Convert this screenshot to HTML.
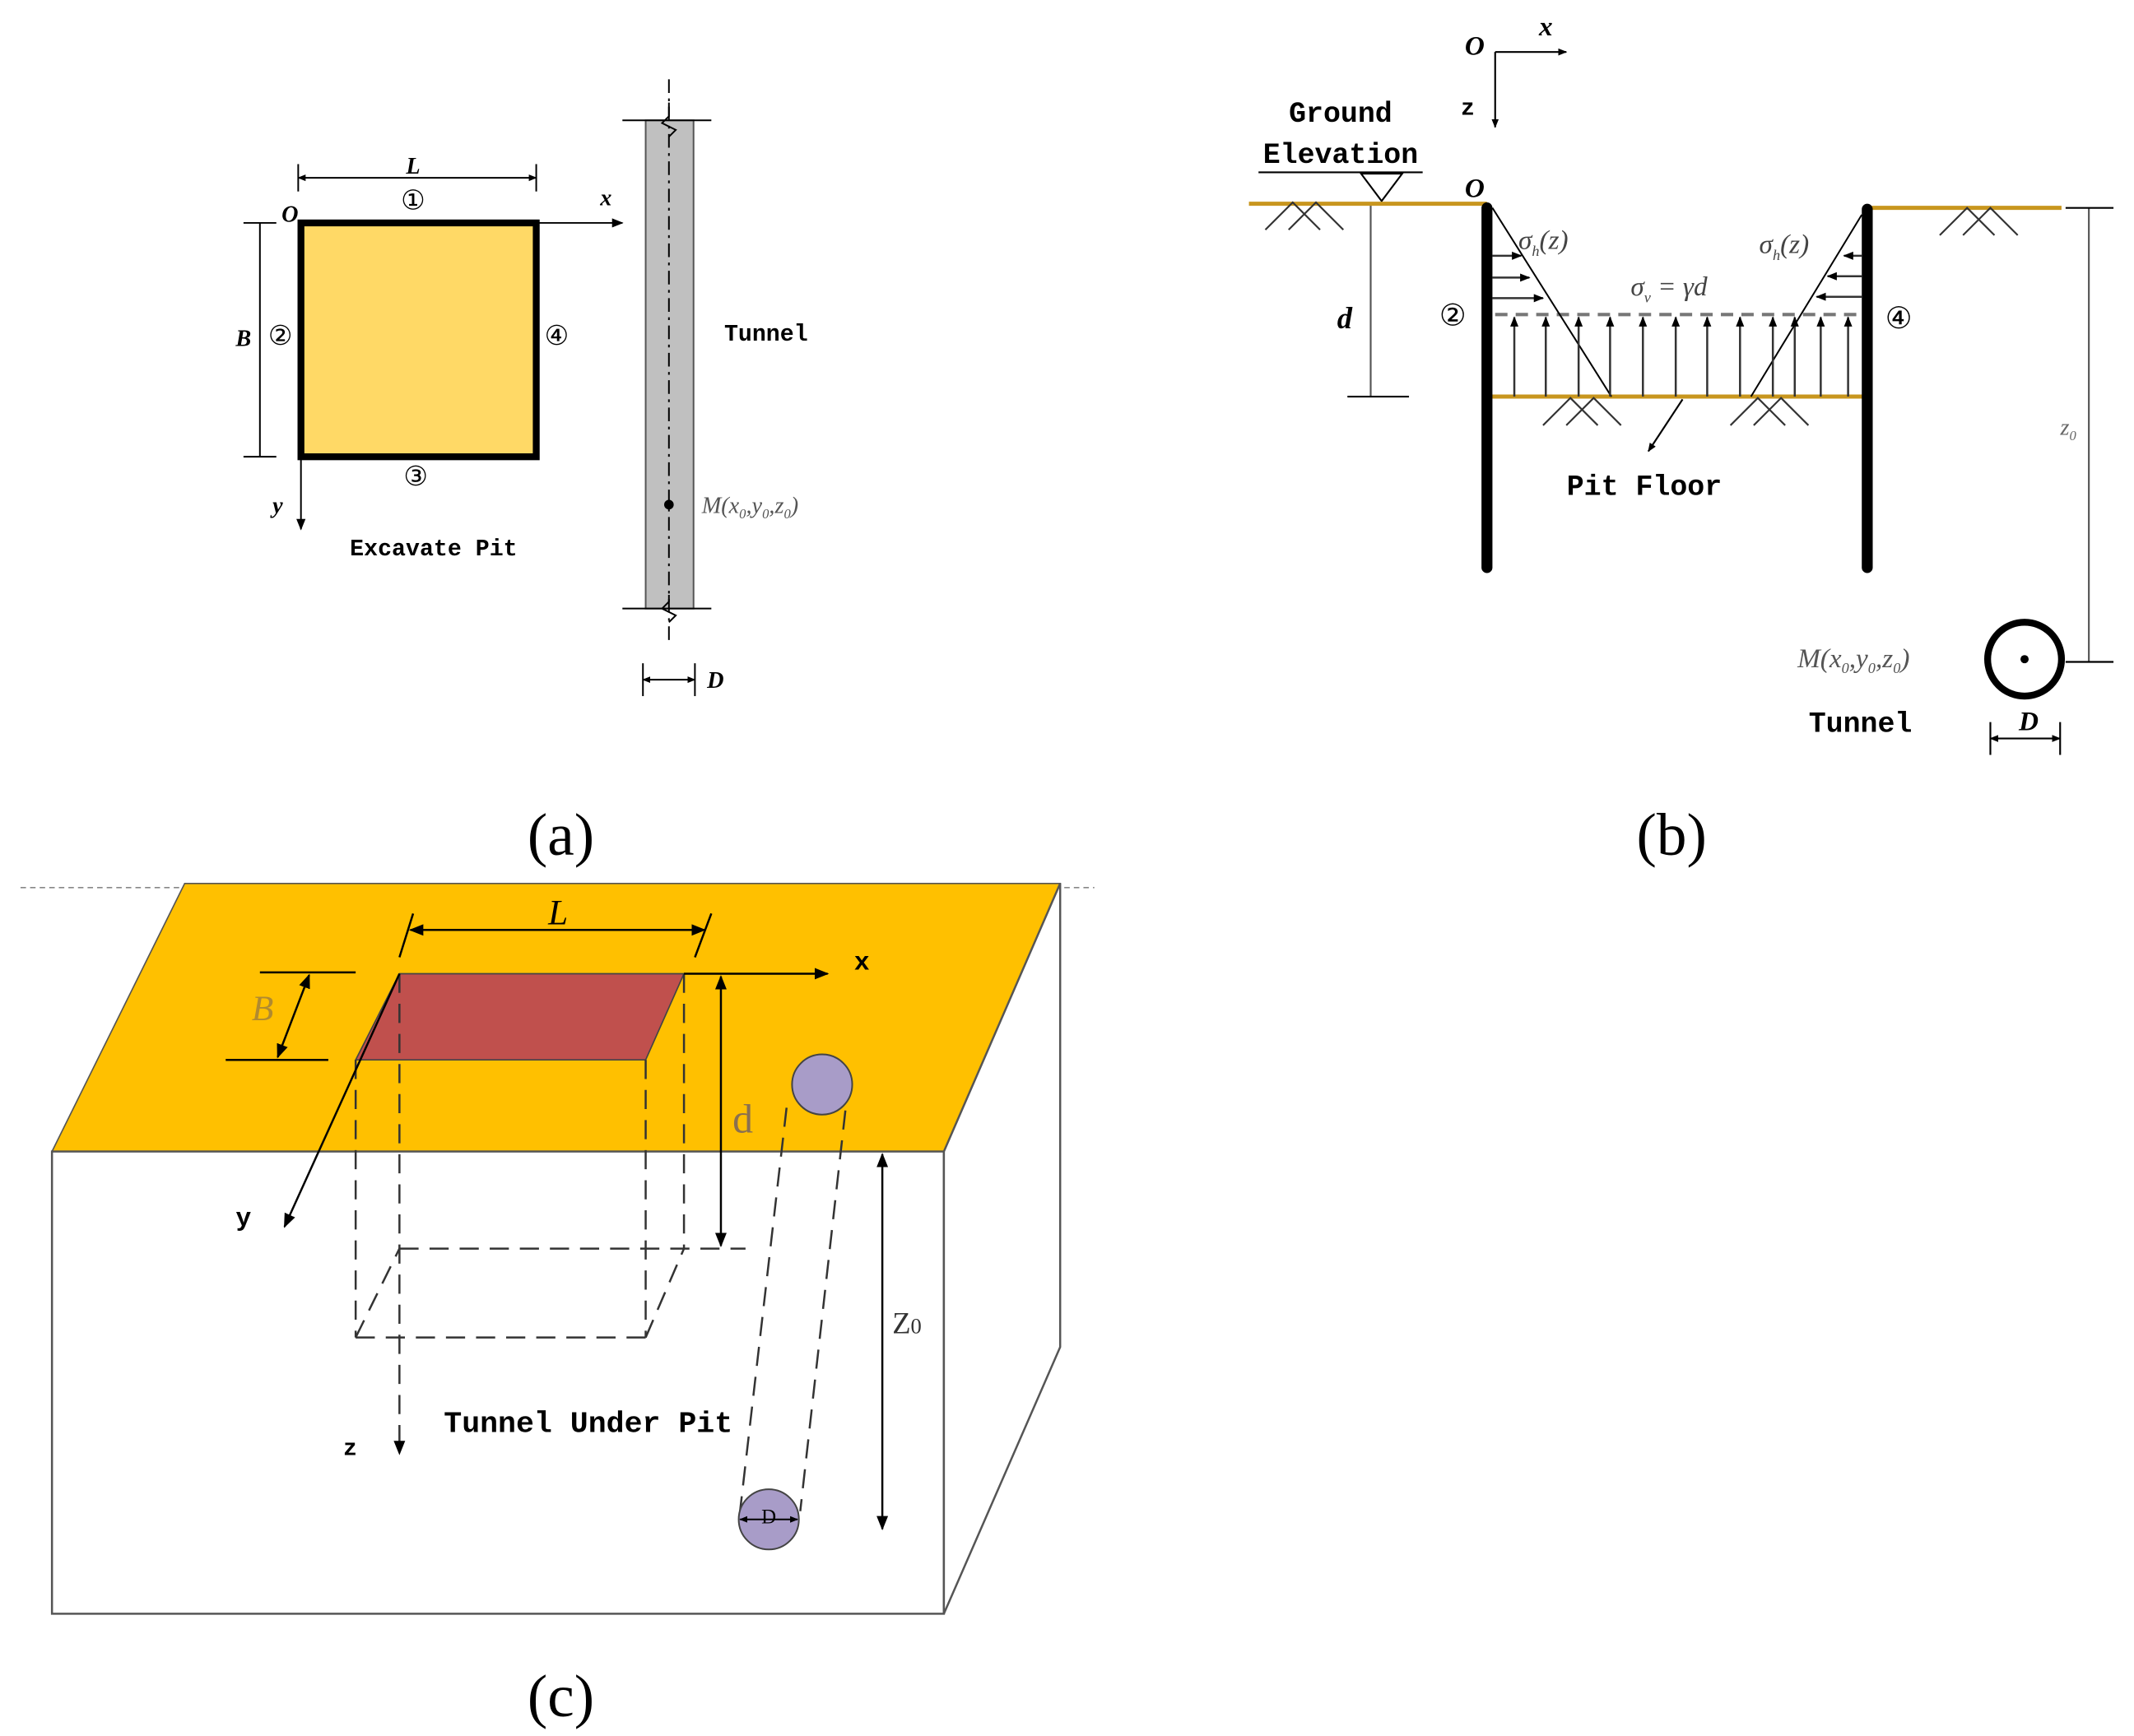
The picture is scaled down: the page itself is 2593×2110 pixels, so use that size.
<!DOCTYPE html>
<html><head><meta charset="utf-8"><style>
html,body{margin:0;padding:0;background:#fff}
svg{display:block}
.m{font-family:"Liberation Mono",monospace;font-weight:bold}
.s{font-family:"Liberation Serif",serif}
</style></head><body>
<svg width="2593" height="2110" viewBox="0 0 1560 1269.4" preserveAspectRatio="none" xmlns="http://www.w3.org/2000/svg">
<defs>
<marker id="a" viewBox="0 0 10 10" refX="9" refY="5" markerWidth="7" markerHeight="7" orient="auto-start-reverse"><path d="M0,1 L10,5 L0,9 z" fill="#000"/></marker>
<marker id="as" viewBox="0 0 10 10" refX="9" refY="5" markerWidth="5" markerHeight="5" orient="auto-start-reverse"><path d="M0,1 L10,5 L0,9 z" fill="#000"/></marker>
</defs>
<!-- Panel (a) -->
<g stroke="#000" stroke-width="1.2" fill="none">
<line x1="218" y1="130" x2="392" y2="130" marker-start="url(#as)" marker-end="url(#as)"/>
<line x1="218" y1="120" x2="218" y2="140"/><line x1="392" y1="120" x2="392" y2="140"/>
<line x1="190" y1="163" x2="190" y2="334"/>
<line x1="178" y1="163" x2="202" y2="163"/><line x1="178" y1="334" x2="202" y2="334"/>
<line x1="392" y1="163" x2="455" y2="163" marker-end="url(#a)"/>
<line x1="220" y1="334" x2="220" y2="387" marker-end="url(#a)"/>
</g>
<rect x="220" y="163" width="172" height="171" fill="#FFD966" stroke="#000" stroke-width="5"/>
<text x="302" y="127" class="s" font-style="italic" font-weight="bold" font-size="17" text-anchor="middle">L</text>
<text x="302" y="153" class="s" font-size="20" text-anchor="middle">①</text>
<text x="212" y="162" class="s" font-style="italic" font-weight="bold" font-size="17" text-anchor="middle">O</text>
<text x="443" y="150" class="s" font-style="italic" font-weight="bold" font-size="17" text-anchor="middle">x</text>
<text x="178" y="253" class="s" font-style="italic" font-weight="bold" font-size="17" text-anchor="middle">B</text>
<text x="205" y="252" class="s" font-size="20" text-anchor="middle">②</text>
<text x="407" y="252" class="s" font-size="20" text-anchor="middle">④</text>
<text x="304" y="355" class="s" font-size="20" text-anchor="middle">③</text>
<text x="203" y="375" class="s" font-style="italic" font-weight="bold" font-size="17" text-anchor="middle">y</text>
<text x="317" y="406" class="m" font-size="17" text-anchor="middle">Excavate Pit</text>
<rect x="472" y="88" width="35" height="357" fill="#c0c0c0" stroke="#555" stroke-width="1.2"/>
<g stroke="#000" stroke-width="1.2" fill="none">
<line x1="455" y1="88" x2="520" y2="88"/><line x1="455" y1="445" x2="520" y2="445"/>
<path d="M489,75 L489,85 L484,90 L494,95 L489,100"/>
<path d="M489,435 L489,440 L484,445 L494,450 L489,455"/>
<line x1="489" y1="58" x2="489" y2="470" stroke-dasharray="10,4,2,4"/>
<line x1="470" y1="497" x2="508" y2="497" marker-start="url(#as)" marker-end="url(#as)"/>
<line x1="470" y1="485" x2="470" y2="509"/><line x1="508" y1="485" x2="508" y2="509"/>
</g>
<circle cx="489" cy="369" r="3.5" fill="#000"/>
<text x="560" y="249" class="m" font-size="17" text-anchor="middle">Tunnel</text>
<text x="513" y="375" class="s" font-style="italic" font-size="17" fill="#555">M(x<tspan font-size="10" dy="4">0</tspan><tspan dy="-4">,y</tspan><tspan font-size="10" dy="4">0</tspan><tspan dy="-4">,z</tspan><tspan font-size="10" dy="4">0</tspan><tspan dy="-4">)</tspan></text>
<text x="523" y="503" class="s" font-style="italic" font-weight="bold" font-size="17" text-anchor="middle">D</text>
<text x="410" y="625" class="s" font-size="44" text-anchor="middle">(a)</text>

<!-- Panel (b) -->
<g stroke="#000" stroke-width="1.3" fill="none">
<line x1="1093" y1="38" x2="1145" y2="38" marker-end="url(#as)"/>
<line x1="1093" y1="38" x2="1093" y2="93" marker-end="url(#as)"/>
<line x1="920" y1="126" x2="1040" y2="126"/>
<path d="M995,127 L1025,127 L1010,147 Z"/>
<line x1="1002" y1="149" x2="1002" y2="290" stroke="#555"/>
<line x1="985" y1="290" x2="1030" y2="290"/>
<line x1="1527" y1="152" x2="1527" y2="484" stroke="#555"/>
<line x1="1510" y1="152" x2="1545" y2="152"/><line x1="1510" y1="484" x2="1545" y2="484"/>
<line x1="1455" y1="540" x2="1506" y2="540" marker-start="url(#as)" marker-end="url(#as)"/>
<line x1="1455" y1="528" x2="1455" y2="552"/><line x1="1506" y1="528" x2="1506" y2="552"/>
</g>
<line x1="913" y1="149" x2="1087" y2="149" stroke="#C8961E" stroke-width="3"/>
<line x1="1365" y1="152" x2="1507" y2="152" stroke="#C8961E" stroke-width="3"/>
<line x1="1090" y1="290" x2="1362" y2="290" stroke="#C8961E" stroke-width="3"/>
<g stroke="#333" stroke-width="1.3" fill="none">
<path d="M925,168 L945,148 L965,168 M942,168 L962,148 L982,168"/>
<path d="M1128,311 L1148,291 L1168,311 M1145,311 L1165,291 L1185,311"/>
<path d="M1265,311 L1285,291 L1305,311 M1282,311 L1302,291 L1322,311"/>
<path d="M1418,172 L1438,152 L1458,172 M1435,172 L1455,152 L1475,172"/>
</g>
<line x1="1087" y1="152" x2="1087" y2="415" stroke="#000" stroke-width="8" stroke-linecap="round"/>
<line x1="1365" y1="153" x2="1365" y2="415" stroke="#000" stroke-width="8" stroke-linecap="round"/>
<line x1="1093" y1="230" x2="1362" y2="230" stroke="#777" stroke-width="2.5" stroke-dasharray="9,6"/>
<g stroke="#000" stroke-width="1.2">
<line x1="1091" y1="152" x2="1178" y2="290"/>
<line x1="1361" y1="157" x2="1280" y2="290"/>
</g>
<g stroke="#333" stroke-width="1.5" marker-end="url(#as)">
<line x1="1107" y1="290" x2="1107" y2="232"/><line x1="1130" y1="290" x2="1130" y2="232"/>
<line x1="1154" y1="290" x2="1154" y2="232"/><line x1="1177" y1="290" x2="1177" y2="232"/>
<line x1="1201" y1="290" x2="1201" y2="232"/><line x1="1225" y1="290" x2="1225" y2="232"/>
<line x1="1248" y1="290" x2="1248" y2="232"/><line x1="1272" y1="290" x2="1272" y2="232"/>
<line x1="1296" y1="290" x2="1296" y2="232"/><line x1="1312" y1="290" x2="1312" y2="232"/>
<line x1="1331" y1="290" x2="1331" y2="232"/><line x1="1351" y1="290" x2="1351" y2="232"/>
<line x1="1091" y1="187" x2="1112" y2="187"/><line x1="1091" y1="203" x2="1118" y2="203"/><line x1="1091" y1="218" x2="1128" y2="218"/>
<line x1="1361" y1="187" x2="1348" y2="187"/><line x1="1361" y1="202" x2="1336" y2="202"/><line x1="1361" y1="217" x2="1328" y2="217"/>
</g>
<line x1="1230" y1="292" x2="1205" y2="330" stroke="#000" stroke-width="1.3" marker-end="url(#as)"/>
<text x="1078" y="40" class="s" font-style="italic" font-weight="bold" font-size="20" text-anchor="middle">O</text>
<text x="1130" y="26" class="s" font-style="italic" font-weight="bold" font-size="20" text-anchor="middle">x</text>
<text x="1073" y="84" class="m" font-size="17" text-anchor="middle">z</text>
<text x="980" y="89" class="m" font-size="21" text-anchor="middle">Ground</text>
<text x="980" y="119" class="m" font-size="21" text-anchor="middle">Elevation</text>
<text x="1078" y="144" class="s" font-style="italic" font-weight="bold" font-size="20" text-anchor="middle">O</text>
<text x="983" y="240" class="s" font-style="italic" font-weight="bold" font-size="22" text-anchor="middle">d</text>
<text x="1062" y="238" class="s" font-size="22" text-anchor="middle">②</text>
<text x="1388" y="240" class="s" font-size="22" text-anchor="middle">④</text>
<text x="1110" y="182" class="s" font-style="italic" font-size="20" fill="#444">σ<tspan font-size="11" dy="5">h</tspan><tspan dy="-5">(z)</tspan></text>
<text x="1286" y="185" class="s" font-style="italic" font-size="20" fill="#444">σ<tspan font-size="11" dy="5">h</tspan><tspan dy="-5">(z)</tspan></text>
<text x="1192" y="216" class="s" font-style="italic" font-size="20" fill="#444">σ<tspan font-size="11" dy="5">v</tspan><tspan dy="-5"> = γd</tspan></text>
<text x="1202" y="362" class="m" font-size="21" text-anchor="middle">Pit Floor</text>
<text x="1512" y="318" class="s" font-style="italic" font-size="17" fill="#666" text-anchor="middle">z<tspan font-size="10" dy="4">0</tspan></text>
<circle cx="1480" cy="482" r="27" fill="#fff" stroke="#000" stroke-width="5"/>
<circle cx="1480" cy="482" r="3" fill="#000"/>
<text x="1314" y="488" class="s" font-style="italic" font-size="20" fill="#555">M(x<tspan font-size="11" dy="4">0</tspan><tspan dy="-4">,y</tspan><tspan font-size="11" dy="4">0</tspan><tspan dy="-4">,z</tspan><tspan font-size="11" dy="4">0</tspan><tspan dy="-4">)</tspan></text>
<text x="1360" y="535" class="m" font-size="21" text-anchor="middle">Tunnel</text>
<text x="1483" y="534" class="s" font-style="italic" font-weight="bold" font-size="20" text-anchor="middle">D</text>
<text x="1222" y="625" class="s" font-size="44" text-anchor="middle">(b)</text>

<!-- Panel (c) -->
<line x1="15" y1="649" x2="800" y2="649" stroke="#888" stroke-width="1" stroke-dasharray="4,3"/>
<polygon points="135,646 775,646 690,842 38,842" fill="#FFC000" stroke="#555" stroke-width="1"/>
<rect x="38" y="842" width="652" height="338" fill="#fff" stroke="#555" stroke-width="1.5"/>
<polygon points="690,842 775,646 775,985 690,1180" fill="#fff" stroke="#555" stroke-width="1.5"/>
<polygon points="292,712 500,712 472,775 260,775" fill="#C0504D" stroke="#444" stroke-width="1"/>
<g stroke="#333" stroke-width="1.5" fill="none" stroke-dasharray="14,8">
<line x1="260" y1="775" x2="260" y2="978"/><line x1="472" y1="775" x2="472" y2="978"/>
<line x1="500" y1="712" x2="500" y2="913"/>
<line x1="260" y1="978" x2="472" y2="978"/><line x1="292" y1="913" x2="545" y2="913"/>
<line x1="260" y1="978" x2="292" y2="913"/><line x1="472" y1="978" x2="500" y2="913"/>
<line x1="292" y1="712" x2="292" y2="1063" marker-end="url(#a)"/>
<line x1="575" y1="810" x2="541" y2="1105"/><line x1="618" y1="812" x2="585" y2="1105"/>
</g>
<g stroke="#000" stroke-width="1.5" fill="none">
<line x1="500" y1="712" x2="605" y2="712" marker-end="url(#a)"/>
<line x1="292" y1="712" x2="208" y2="897" marker-end="url(#a)"/>
<line x1="300" y1="680" x2="515" y2="680" marker-start="url(#a)" marker-end="url(#a)"/>
<line x1="292" y1="700" x2="302" y2="668"/><line x1="508" y1="700" x2="520" y2="668"/>
<line x1="190" y1="711" x2="260" y2="711"/><line x1="165" y1="775" x2="240" y2="775"/>
<line x1="226" y1="713" x2="203" y2="773" marker-start="url(#a)" marker-end="url(#a)"/>
<line x1="527" y1="714" x2="527" y2="911" marker-start="url(#a)" marker-end="url(#a)"/>
<line x1="645" y1="844" x2="645" y2="1118" marker-start="url(#a)" marker-end="url(#a)"/>
</g>
<circle cx="601" cy="793" r="22" fill="#A89CC8" stroke="#444" stroke-width="1.2"/>
<circle cx="562" cy="1111" r="22" fill="#A89CC8" stroke="#444" stroke-width="1.2"/>
<line x1="541" y1="1111" x2="583" y2="1111" stroke="#000" stroke-width="1.2" marker-start="url(#as)" marker-end="url(#as)"/>
<text x="562" y="1114" class="s" font-size="15" text-anchor="middle">D</text>
<text x="408" y="676" class="s" font-style="italic" font-size="26" text-anchor="middle">L</text>
<text x="192" y="746" class="s" font-style="italic" font-size="26" fill="#b08a30" text-anchor="middle">B</text>
<text x="543" y="828" class="s" font-size="30" fill="#8a7050" text-anchor="middle">d</text>
<text x="630" y="709" class="m" font-size="19" text-anchor="middle">x</text>
<text x="178" y="896" class="m" font-size="19" text-anchor="middle">y</text>
<text x="256" y="1064" class="m" font-size="17" text-anchor="middle">z</text>
<text x="663" y="975" class="s" font-size="22" fill="#333" text-anchor="middle">Z<tspan font-size="16">0</tspan></text>
<text x="430" y="1047" class="m" font-size="22" text-anchor="middle">Tunnel Under Pit</text>
<text x="410" y="1255" class="s" font-size="44" text-anchor="middle">(c)</text>
</svg>
</body></html>
